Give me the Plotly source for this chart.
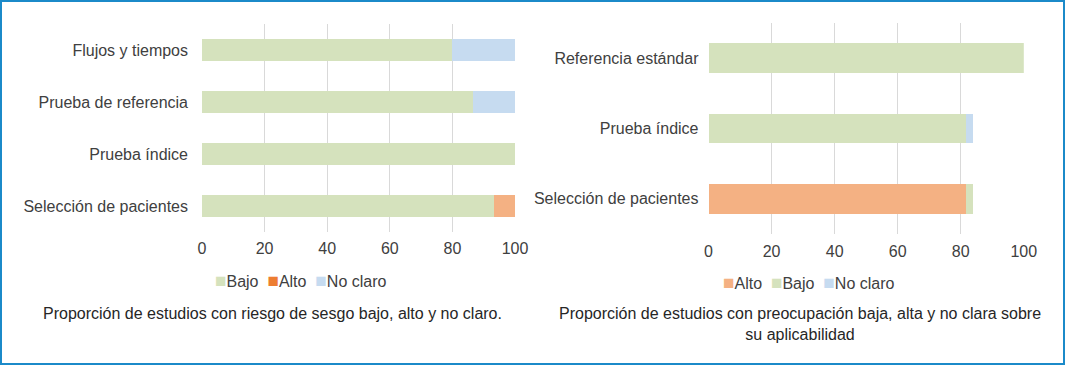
import plotly.graph_objects as go

# ---- Data ----
left_categories = ["Selección de pacientes", "Prueba índice", "Prueba de referencia", "Flujos y tiempos"]
left_bajo = [93.3, 100.0, 86.7, 80.0]
left_alto = [6.7, 0.0, 0.0, 0.0]
left_noclaro = [0.0, 0.0, 13.3, 20.0]

right_categories = ["Selección de pacientes", "Prueba índice", "Referencia estándar"]
right_alto = [81.8, 0.0, 0.0]
right_bajo = [2.0, 81.8, 100.0]
right_noclaro = [0.0, 2.0, 0.0]

x_ticks = [0, 20, 40, 60, 80, 100]

left_legend_names = ["Bajo", "Alto", "No claro"]
right_legend_names = ["Alto", "Bajo", "No claro"]

left_caption = "Proporción de estudios con riesgo de sesgo bajo, alto y no claro."
right_caption = "Proporción de estudios con preocupación baja, alta y no clara sobre<br>su aplicabilidad"

# ---- Styles ----
C_BAJO = "#D5E2BD"
C_ALTO = "#F4B183"
C_ALTO_LEG = "#ED7D31"
C_NC = "#C6DBF0"
FONT = "Liberation Sans, Arial, sans-serif"
TXT = "#404040"
FS = 16
W, H = 1065, 365

fig = go.Figure()

left_series = [(left_bajo, C_BAJO), (left_alto, C_ALTO), (left_noclaro, C_NC)]
for name, (vals, col) in zip(left_legend_names, left_series):
    fig.add_trace(go.Bar(y=left_categories, x=vals, orientation="h", name=name,
                         marker=dict(color=col, line=dict(width=0)), xaxis="x", yaxis="y",
                         showlegend=False))

right_series = [(right_alto, C_ALTO), (right_bajo, C_BAJO), (right_noclaro, C_NC)]
for name, (vals, col) in zip(right_legend_names, right_series):
    fig.add_trace(go.Bar(y=right_categories, x=vals, orientation="h", name=name,
                         marker=dict(color=col, line=dict(width=0)), xaxis="x2", yaxis="y2",
                         showlegend=False))

axis_x = dict(range=[0, 100], tickvals=x_ticks, showgrid=True, gridcolor="#D9D9D9", gridwidth=1,
              zeroline=False, showline=False, ticks="", automargin=False,
              tickfont=dict(size=FS, color=TXT, family=FONT), fixedrange=True)
axis_y = dict(showgrid=False, zeroline=False, showline=False, ticks="", automargin=False,
              tickfont=dict(size=FS, color=TXT, family=FONT), fixedrange=True)

fig.update_layout(
    width=W, height=H,
    margin=dict(l=0, r=0, t=0, b=0, pad=0, autoexpand=False),
    paper_bgcolor="white", plot_bgcolor="white",
    barmode="stack", bargap=0.58,
    font=dict(family=FONT, color=TXT, size=FS),
    xaxis=dict(axis_x, domain=[202 / W, 515 / W], anchor="y", ticklabelstandoff=5),
    yaxis=dict(axis_y, domain=[1 - 232 / H, 1 - 24 / H], anchor="x", ticklabelstandoff=13),
    xaxis2=dict(axis_x, domain=[708.5 / W, 1023.8 / W], anchor="y2", ticklabelstandoff=6),
    yaxis2=dict(axis_y, domain=[1 - 234 / H, 1 - 23 / H], anchor="x2", ticklabelstandoff=9),
    showlegend=False,
)


def legend_text(names, colors):
    parts = []
    for n, c in zip(names, colors):
        parts.append(f'<span style="color:{c};font-size:19px">■</span>{n}')
    return " &nbsp;".join(parts)


fig.add_annotation(text=legend_text(left_legend_names, [C_BAJO, C_ALTO_LEG, C_NC]),
                   x=301 / W, y=1 - 280 / H, xref="paper", yref="paper", showarrow=False,
                   xanchor="center", yanchor="middle", font=dict(size=FS, color=TXT, family=FONT))
fig.add_annotation(text=legend_text(right_legend_names, [C_ALTO, C_BAJO, C_NC]),
                   x=809 / W, y=1 - 282 / H, xref="paper", yref="paper", showarrow=False,
                   xanchor="center", yanchor="middle", font=dict(size=FS, color=TXT, family=FONT))

fig.add_annotation(text=left_caption, x=272 / W, y=1 - 313 / H, xref="paper", yref="paper",
                   showarrow=False, xanchor="center", yanchor="middle",
                   font=dict(size=FS, color="#262626", family=FONT))
fig.add_annotation(text=right_caption, x=800 / W, y=1 - 324 / H, xref="paper", yref="paper",
                   showarrow=False, xanchor="center", yanchor="middle", align="center",
                   font=dict(size=FS, color="#262626", family=FONT))

# Outer frame
fig.add_shape(type="rect", xref="paper", yref="paper", x0=1 / W, x1=1 - 1 / W, y0=1 / H, y1=1 - 1 / H,
              line=dict(color="#1B8AC9", width=2), fillcolor="rgba(0,0,0,0)", layer="above")

fig.write_html("out.html", config={"displayModeBar": False},
               post_script="document.body.style.margin='0';document.body.style.padding='0';"
                           "document.documentElement.style.overflow='hidden';")
